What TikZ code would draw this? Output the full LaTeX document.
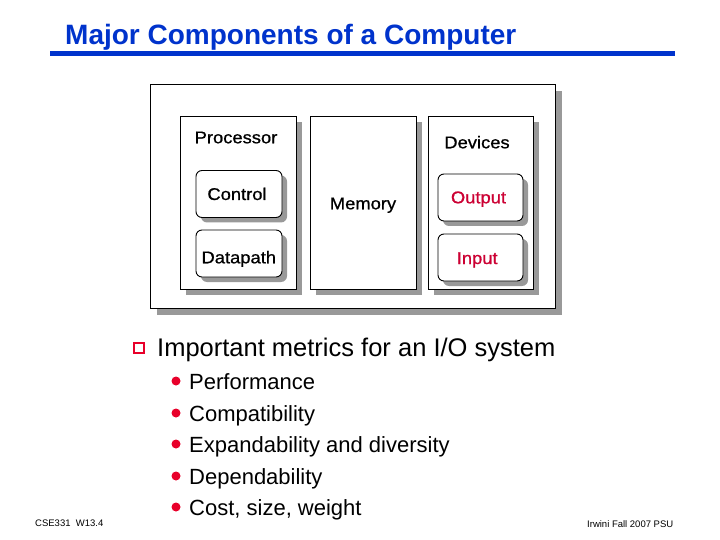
\documentclass[tikz,border=0pt]{standalone}
\usepackage{fontspec}
\setmainfont{Liberation Sans}
\newfontfamily\boxfont[FakeBold=0.8]{Liberation Sans}
\usetikzlibrary{shadows}
\definecolor{titleblue}{HTML}{0033CC}
\definecolor{ioRed}{HTML}{CC0033}
\definecolor{dotRed}{HTML}{E8002A}
\definecolor{shadowgray}{HTML}{999999}
\tikzset{
  shbox/.style={draw=black, line width=0.9pt, fill=white, inner sep=0pt, outer sep=0pt,
    drop shadow={shadow xshift=6pt, shadow yshift=-6pt, fill=shadowgray, opacity=1}},
  outerbox/.style={draw=black, line width=0.9pt, fill=white, inner sep=0pt, outer sep=0pt,
    drop shadow={shadow xshift=7pt, shadow yshift=-7pt, fill=shadowgray, opacity=1}},
  rbox/.style={draw=black, line width=0.9pt, fill=white, inner sep=0pt, outer sep=0pt, rounded corners=6pt,
    minimum width=86pt, minimum height=47pt,
    drop shadow={shadow xshift=5pt, shadow yshift=-5pt, fill=shadowgray, opacity=1}},
  lbl/.style={font=\boxfont\fontsize{17}{19}\selectfont, inner sep=0pt, anchor=base, xscale=1.08},
  bodytxt/.style={font=\fontsize{25.5}{28}\selectfont, anchor=base west, inner sep=0pt},
  subtxt/.style={font=\fontsize{22}{24}\selectfont, anchor=base west, inner sep=0pt},
  reddot/.style={circle, fill=dotRed, minimum size=9pt, inner sep=0pt},
  foot/.style={font=\fontsize{9.5}{11}\selectfont, inner sep=0pt}
}
\begin{document}
\begin{tikzpicture}[x=1pt,y=-1pt]
\useasboundingbox (0,0) rectangle (720,540);
% title
\node[font=\bfseries\fontsize{28}{30}\selectfont, text=titleblue, anchor=base west, inner sep=0pt] (title) at (65,45) {Major Components of a Computer};
\fill[titleblue] (50,51.5) rectangle (675,56.5);
% diagram
\node[outerbox, minimum width=405pt, minimum height=224pt] (outer) at (352.5,196) {};
\node[shbox, minimum width=116pt, minimum height=173pt] (proc) at (238,202.5) {};
\node[shbox, minimum width=106pt, minimum height=173pt] (mem) at (363,202.5) {};
\node[shbox, minimum width=105pt, minimum height=173pt] (dev) at (480.5,202.5) {};
\node[rbox] (ctrl) at (239,194) {};
\node[rbox] (dp) at (239,253.5) {};
\node[rbox, minimum width=85pt] (outp) at (480.5,197.5) {};
\node[rbox, minimum width=85pt] (inp) at (480.5,257.5) {};
\node[lbl] (proclbl) at (236,143.3) {Processor};
\node[lbl] (devlbl) at (477,148.3) {Devices};
\node[lbl] (memlbl) at (363,209.3) {Memory};
\node[lbl] (ctrllbl) at (237,200) {Control};
\node[lbl] (dplbl) at (238.8,263.3) {Datapath};
\node[lbl, text=ioRed] (outlbl) at (478.5,203.3) {Output};
\node[lbl, text=ioRed] (inlbl) at (477.2,264) {Input};
% main bullet
\node[draw=dotRed, line width=1.8pt, fill=white, minimum size=10.5pt, inner sep=0pt] (chk) at (139,348) {};
\node[bodytxt] (metrics) at (157,356) {Important metrics for an I/O system};
% sub bullets
\node[reddot] (d1) at (176,381) {};
\node[subtxt] (t1) at (189,389) {Performance};
\node[reddot] (d2) at (176,413) {};
\node[subtxt] (t2) at (189,421) {Compatibility};
\node[reddot] (d3) at (176,444) {};
\node[subtxt] (t3) at (189,452) {Expandability and diversity};
\node[reddot] (d4) at (176,476) {};
\node[subtxt] (t4) at (189,484) {Dependability};
\node[reddot] (d5) at (176,507) {};
\node[subtxt] (t5) at (189,515) {Cost, size, weight};
% footers
\node[foot, anchor=west] (fl) at (35,523) {CSE331\ \ W13.4};
\node[foot, anchor=west] (fr) at (587,524) {Irwini Fall 2007 PSU};
\end{tikzpicture}
\end{document}
